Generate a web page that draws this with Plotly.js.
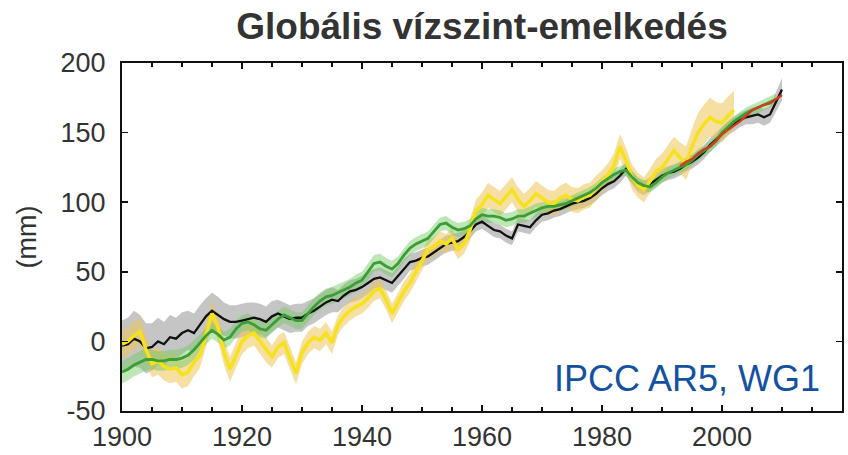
<!DOCTYPE html>
<html>
<head>
<meta charset="utf-8">
<script src="https://cdn.plot.ly/plotly-3.0.1.min.js"></script>
<style>
  html, body { margin: 0; padding: 0; background: #fff; }
  #chart { width: 848px; height: 455px; }
</style>
</head>
<body>
<div id="chart"></div>
<script>
// ---- data (mm, annual) ----
const blackStart = 1900;
const blackValues = [
  -3, -2, 2, 0, -5, -4, 0, -2, 3, 2,
  6, 8, 6, 12, 18, 22, 19, 16, 14, 14,
  15, 16, 17, 16, 14, 18, 20, 18, 16, 17,
  17, 20, 22, 25, 28, 30, 29, 33, 36, 37,
  39, 42, 45, 46, 44, 42, 47, 52, 57, 58,
  60, 61, 64, 67, 70, 71, 72, 75, 79, 84,
  86, 83, 80, 79, 76, 74, 84, 83, 82, 87,
  91, 92, 94, 95, 97, 99, 100, 101, 103, 106,
  110, 113, 115, 119, 124, 118, 112, 110, 113, 116,
  119, 121, 122, 124, 127, 129, 132, 136, 141, 145,
  149, 153, 156, 159, 161, 162, 163, 161, 163, 172, 181
];
const blackErr = [
  18, 19, 20, 19, 18, 17, 17, 16, 16, 15,
  15, 14, 14, 14, 13, 13, 13, 12, 12, 12,
  12, 12, 11, 11, 11, 11, 10, 10, 10, 10,
  10, 9, 9, 9, 9, 9, 8, 8, 8, 8,
  8, 8, 7, 7, 7, 7, 7, 7, 6, 6,
  6, 6, 6, 6, 6, 6, 6, 5, 5, 5,
  5, 5, 5, 5, 5, 5, 5, 5, 5, 5,
  5, 5, 5, 5, 5, 5, 5, 5, 5, 5,
  5, 5, 5, 5, 5, 5, 5, 5, 5, 5,
  5, 5, 5, 5, 5, 5, 5, 5, 5, 5,
  5, 5, 5, 5, 5, 6, 6, 6, 6, 7, 8
];

const yellowStart = 1900;
const yellowValues = [
  -2, 0, 4, 7, -6, -16, -14, -18, -20, -19,
  -24, -22, -15, -10, 5, 20, 10, -8, -20, -10,
  0, 4, 6, 0, -6, -11, -4, -1, -12, -23,
  -8, -1, 3, 1, 6, -1, 12, 18, 22, 25,
  27, 31, 36, 38, 30, 20, 28, 36, 42, 50,
  58, 66, 68, 72, 70, 74, 66, 70, 80, 94,
  98, 105, 102, 99, 104, 109, 102, 97, 101, 106,
  103, 100, 99, 103, 105, 102, 101, 104, 105, 110,
  115, 120, 126, 140, 130, 118, 112, 109, 115, 122,
  125, 131, 137, 132, 128, 140, 150, 156, 161, 158,
  157, 162, 166
];
const yellowErr = [
  10, 10, 10, 10, 10, 10, 10, 10, 10, 10,
  10, 10, 10, 9, 9, 9, 9, 9, 9, 9,
  9, 9, 9, 9, 9, 8, 8, 8, 8, 8,
  8, 8, 8, 8, 8, 8, 7, 7, 7, 7,
  7, 7, 7, 7, 7, 7, 7, 7, 7, 7,
  7, 7, 7, 7, 7, 7, 7, 7, 8, 8,
  9, 9, 9, 9, 9, 9, 9, 9, 9, 9,
  9, 9, 9, 9, 9, 9, 9, 9, 9, 9,
  8, 8, 9, 9, 9, 9, 9, 9, 9, 9,
  10, 10, 10, 11, 12, 13, 14, 14, 14, 14,
  14, 14, 14
];

const greenStart = 1900;
const greenValues = [
  -22, -20, -17, -15, -13, -13, -14, -14, -13, -13,
  -12, -10, -6, -1, 4, 8, 5, 1, 3, 9,
  13, 14, 12, 9, 8, 12, 16, 19, 17, 15,
  15, 20, 25, 29, 32, 33, 35, 37, 39, 42,
  44, 50, 56, 57, 54, 52, 56, 62, 67, 70,
  72, 74, 79, 84, 85, 82, 80, 81, 83, 88,
  91, 90, 90, 89, 87, 88, 90, 90, 92, 94,
  96, 97, 97, 98, 99, 101, 103, 105, 107, 110,
  114, 117, 120, 122, 123, 118, 114, 112, 111, 114,
  118, 121, 123, 125, 127, 130, 134, 137, 140, 144,
  150, 154, 158, 161, 164, 166, 168, 170, 172, 174
];
const greenErr = [
  8, 8, 8, 8, 8, 7, 7, 7, 7, 7,
  7, 7, 7, 6, 6, 6, 6, 6, 6, 6,
  6, 6, 6, 6, 6, 6, 6, 6, 6, 6,
  6, 6, 6, 6, 6, 6, 6, 6, 6, 6,
  6, 6, 6, 6, 6, 6, 5, 5, 5, 5,
  5, 5, 5, 5, 5, 5, 5, 5, 5, 5,
  5, 5, 5, 5, 5, 5, 5, 5, 5, 5,
  4, 4, 4, 4, 4, 4, 4, 4, 4, 4,
  4, 4, 4, 4, 4, 4, 4, 4, 4, 4,
  4, 4, 4, 4, 4, 4, 4, 4, 4, 4,
  4, 4, 4, 4, 4, 4, 4, 4, 4, 4
];

const redStart = 1993;
const redValues = [
  126, 129, 131, 135, 138, 140, 144, 149, 152, 155,
  158, 162, 166, 168, 170, 171, 174, 177
];

const yTicks = [-50, 0, 50, 100, 150, 200];
const xTicks = [1900, 1920, 1940, 1960, 1980, 2000];
const titleText = "Globális vízszint-emelkedés";
const yTitleText = "(mm)";
const sourceText = "IPCC AR5, WG1";

// ---- helpers ----
function yearsFrom(start, n) {
  const out = [];
  for (let i = 0; i < n; i++) out.push(start + i);
  return out;
}
function band(start, vals, err, fillcolor) {
  const yrs = yearsFrom(start, vals.length);
  const upper = vals.map((v, i) => v + err[i]);
  const lower = vals.map((v, i) => v - err[i]);
  return {
    x: yrs.concat(yrs.slice().reverse()),
    y: upper.concat(lower.slice().reverse()),
    type: 'scatter', mode: 'lines', fill: 'toself',
    fillcolor: fillcolor, line: {width: 0, color: 'rgba(0,0,0,0)'},
    hoverinfo: 'skip', showlegend: false
  };
}
function line(start, vals, color, width) {
  return {
    x: yearsFrom(start, vals.length), y: vals,
    type: 'scatter', mode: 'lines',
    line: {color: color, width: width},
    showlegend: false
  };
}

const traces = [
  band(blackStart, blackValues, blackErr, 'rgba(150,150,150,0.55)'),
  band(yellowStart, yellowValues, yellowErr, 'rgba(238,196,85,0.55)'),
  band(greenStart, greenValues, greenErr, 'rgba(110,200,95,0.45)'),
  line(blackStart, blackValues, '#111111', 2.3),
  line(yellowStart, yellowValues, '#f6e21c', 3.5),
  line(greenStart, greenValues, '#3a9e35', 2.8),
  line(redStart, redValues, '#d43a1c', 2.3)
];

const axisFont = {family: 'Liberation Sans, Arial, sans-serif', size: 27, color: '#333333'};

const layout = {
  width: 848, height: 455,
  margin: {l: 122, r: 6, t: 63, b: 44},
  paper_bgcolor: '#ffffff', plot_bgcolor: '#ffffff',
  title: {
    text: '<b>' + titleText + '</b>',
    font: {family: 'Liberation Sans, Arial, sans-serif', size: 37, color: '#333333'},
    x: 0.5, xref: 'paper', xanchor: 'center',
    y: 1 - 26 / 455, yref: 'container', yanchor: 'middle'
  },
  xaxis: {
    range: [1900, 2020], tickvals: xTicks, ticktext: xTicks.map(String),
    ticks: 'inside', ticklen: 6, tickwidth: 1.5, tickcolor: '#111',
    showline: true, linecolor: '#111', linewidth: 2, mirror: 'ticks',
    showgrid: false, zeroline: false, tickfont: axisFont,
    ticklabelstandoff: 1,
    minor: {dtick: 5, tick0: 1900, ticks: 'inside', ticklen: 4, tickwidth: 1.2, tickcolor: '#111', showgrid: false}
  },
  yaxis: {
    range: [-50, 200], tickvals: yTicks, ticktext: yTicks.map(String),
    ticks: 'inside', ticklen: 6, tickwidth: 1.5, tickcolor: '#111',
    showline: true, linecolor: '#111', linewidth: 2, mirror: 'ticks',
    showgrid: false, zeroline: false, tickfont: axisFont,
    ticklabelstandoff: 9,
    title: {text: yTitleText, font: axisFont, standoff: 16}
  },
  annotations: [{
    text: sourceText, xref: 'paper', yref: 'paper',
    x: (822 - 122) / 720, y: (411 - 378) / 348,
    xanchor: 'right', yanchor: 'middle', showarrow: false,
    font: {family: 'Liberation Sans, Arial, sans-serif', size: 36, color: '#1452a0'}
  }],
  showlegend: false
};

Plotly.newPlot('chart', traces, layout, {displayModeBar: false, staticPlot: true});
</script>
</body>
</html>
